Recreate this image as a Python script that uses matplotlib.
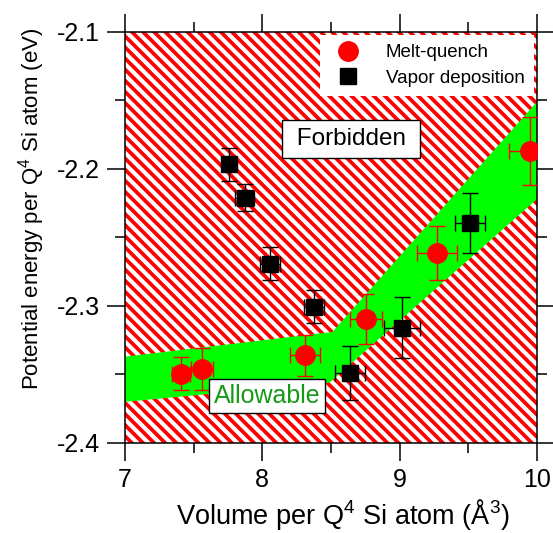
import numpy as np
import matplotlib
matplotlib.use('Agg')
import matplotlib.pyplot as plt
from matplotlib.patches import Rectangle
from matplotlib.ticker import MultipleLocator

plt.rcParams['font.family'] = ['Liberation Sans', 'DejaVu Sans']
plt.rcParams['mathtext.fontset'] = 'custom'
plt.rcParams['mathtext.rm'] = 'Liberation Sans'
plt.rcParams['mathtext.it'] = 'Liberation Sans:italic'
plt.rcParams['axes.unicode_minus'] = False
plt.rcParams['hatch.linewidth'] = 2.7

# Melt-quench points
mq_x = [7.41, 7.56, 8.31, 8.755, 9.272, 9.95]
mq_y = [-2.3496, -2.346, -2.336, -2.3095, -2.2613, -2.187]
mq_xerr = [0.066, 0.08, 0.11, 0.115, 0.145, 0.15]
mq_yerr = [0.012, 0.015, 0.015, 0.018, 0.020, 0.025]

# Vapor deposition points
vd_x = [7.757, 7.872, 8.056, 8.377, 8.639, 9.015, 9.513]
vd_y = [-2.1966, -2.221, -2.2693, -2.3007, -2.349, -2.3158, -2.2394]
vd_xerr = [0.04, 0.07, 0.07, 0.073, 0.11, 0.13, 0.11]
vd_yerr = [0.012, 0.010, 0.012, 0.012, 0.020, 0.022, 0.022]

# allowable band edges
band_up_x = [7.0, 8.51, 10.0]
band_up_y = [-2.337, -2.319, -2.151]
band_lo_x = [7.0, 8.49, 10.0]
band_lo_y = [-2.370, -2.356, -2.222]

fig = plt.figure(figsize=(5.53, 5.33), dpi=100)
ax = fig.add_axes([0.226, 0.169, 0.745, 0.771])

# forbidden background
ax.add_patch(Rectangle((0, 0), 1, 1, transform=ax.transAxes, facecolor='white',
                       edgecolor='red', hatch='\\\\\\', lw=0, zorder=0))

# allowable band
ax.fill(np.r_[band_up_x, band_lo_x[::-1]], np.r_[band_up_y, band_lo_y[::-1]],
        color='#00ff00', lw=0, zorder=1)

eb1 = ax.errorbar(mq_x, mq_y, xerr=mq_xerr, yerr=mq_yerr, fmt='o', color='red',
                  ms=14, elinewidth=1.0, capsize=6, capthick=1.0, zorder=3,
                  label='Melt-quench')
eb2 = ax.errorbar(vd_x, vd_y, xerr=vd_xerr, yerr=vd_yerr, fmt='s', color='black',
                  ms=11.5, elinewidth=1.0, capsize=6, capthick=1.0, zorder=3,
                  label='Vapor deposition')

ax.text(8.646, -2.178, ' Forbidden ', fontsize=17.5, ha='center', va='center',
        bbox=dict(boxstyle='square,pad=0.32', facecolor='white', edgecolor='black', lw=1),
        zorder=5)
ax.text(8.034, -2.3657, 'Allowable', fontsize=18, color='#169a16', ha='center', va='center',
        bbox=dict(boxstyle='square,pad=0.2', facecolor='white', edgecolor='black', lw=1),
        zorder=5)

leg = ax.legend(handles=[eb1[0], eb2[0]], labels=['Melt-quench', 'Vapor deposition'],
                loc='upper right', fontsize=13.5, frameon=True, fancybox=False,
                facecolor='white', edgecolor='none', framealpha=1,
                borderaxespad=0.15, borderpad=0.5, handletextpad=1.0, labelspacing=0.45)
leg.set_zorder(6)

ax.set_xlim(7, 10)
ax.set_ylim(-2.4, -2.1)
ax.xaxis.set_major_locator(MultipleLocator(1))
ax.xaxis.set_minor_locator(MultipleLocator(0.5))
ax.yaxis.set_major_locator(MultipleLocator(0.1))
ax.yaxis.set_minor_locator(MultipleLocator(0.05))
ax.yaxis.set_major_formatter(plt.FormatStrFormatter('%.1f'))
ax.tick_params(which='both', direction='out', top=True, right=True, width=1.1, labelsize=18)
ax.tick_params(which='major', length=13, pad=5)
ax.tick_params(which='minor', length=7)
for s in ax.spines.values():
    s.set_linewidth(1.1)

ax.set_xlabel(r'Volume per Q$^\mathregular{4}$ Si atom (Å$^\mathregular{3}$)', fontsize=19.5)
ax.xaxis.set_label_coords(0.53, -0.132)
ax.set_ylabel(r'Potential energy per Q$^\mathregular{4}$ Si atom (eV)', fontsize=16)
ax.yaxis.set_label_coords(-0.19, 0.569)

fig.savefig('out.png', dpi=100)
